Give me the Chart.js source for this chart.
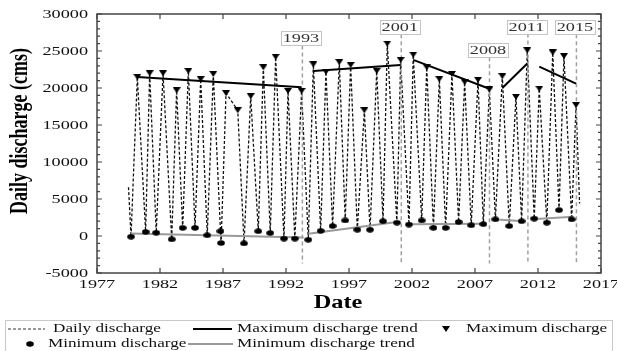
<!DOCTYPE html>
<html>
<head>
<meta charset="utf-8">
<script src="https://cdn.jsdelivr.net/npm/chart.js@4.4.1/dist/chart.umd.min.js"></script>
<style>
  body { margin: 0; background: #fff; }
  #wrap { width: 617px; height: 351px; }
</style>
</head>
<body>
<div id="wrap"><canvas id="grafico"></canvas></div>
<script>
// Annual maximum discharge (decimal year, cms)
const maxYears = [1980.2, 1981.18, 1982.24, 1983.32, 1984.25, 1985.23, 1986.23, 1987.24, 1988.17, 1989.2,
  1990.2, 1991.18, 1992.16, 1993.24, 1994.17, 1995.17, 1996.23, 1997.13, 1998.22, 1999.2,
  2000.04, 2001.1, 2002.1, 2003.17, 2004.17, 2005.17, 2006.18, 2007.24, 2008.14, 2009.17,
  2010.25, 2011.15, 2012.1, 2013.17, 2014.06, 2015.02];
const maxValues = [21500, 22000, 22000, 19700, 22300, 21200, 21900, 19300, 17000, 18900,
  22800, 24200, 19600, 19600, 23200, 22200, 23500, 23100, 17000, 22300,
  26000, 23800, 24500, 22800, 21200, 21900, 20800, 21100, 19800, 21600,
  18800, 25100, 19900, 24800, 24300, 17700];

// Annual minimum discharge
const minYears = [1979.7, 1980.86, 1981.7, 1982.93, 1983.8, 1984.78, 1985.75, 1986.8, 1986.85, 1988.67,
  1989.8, 1990.75, 1991.84, 1992.7, 1993.77, 1994.75, 1995.7, 1996.7, 1997.66, 1998.67,
  1999.7, 2000.8, 2001.76, 2002.77, 2003.7, 2004.67, 2005.7, 2006.7, 2007.66, 2008.62,
  2009.72, 2010.7, 2011.7, 2012.7, 2013.67, 2014.67];
const minValues = [-100, 550, 450, -450, 1100, 1100, 100, 650, -950, -1000,
  650, 400, -350, -350, -500, 700, 1350, 2100, 850, 850,
  2000, 1800, 1550, 2100, 1100, 1100, 1900, 1450, 1600, 2250,
  1350, 2000, 2350, 1800, 3500, 2250];

// first and last reading of the daily record
const dailyEdgeYears = [1979.5, 2015.3];
const dailyEdgeValues = [6600, 4400];

// trend segments (null = break between periods)
const maxTrendYears = [1980.2, 1993.24, 1993.7, 1994.17, 2001.1, 2001.6, 2002.1, 2008.14, 2008.6, 2009.17, 2011.15, 2011.6, 2012.1, 2015.02];
const maxTrendValues = [21500, 20100, null, 22300, 23100, null, 23800, 19900, null, 20000, 23300, null, 22900, 20600];
const minTrendYears = [1979.7, 1993.4, 1993.6, 1993.77, 2000.8, 2001.3, 2001.76, 2007.66, 2008.1, 2008.5, 2010.8, 2011.2, 2011.5, 2014.8];
const minTrendValues = [350, -200, null, 300, 1900, null, 1600, 1650, null, 2250, 2000, null, 2250, 2600];

// change points
const eventYears = [1993.3, 2001.15, 2008.15, 2011.2, 2015.05];
const eventLabels = ['1993', '2001', '2008', '2011', '2015'];
const eventLabelValues = [26700, 28200, 25100, 28300, 28200];
const eventBottom = -3700;

// axis ticks
const xTicks = [1977, 1982, 1987, 1992, 1997, 2002, 2007, 2012, 2017];
const yTicks = [-5000, 0, 5000, 10000, 15000, 20000, 25000, 30000];

const SX = 1.35; // the original figure is stretched sideways
const SERIF = '"Liberation Serif", "Times New Roman", serif';

function pts(xs, ys) { return xs.map((x, i) => ({ x: x, y: ys[i] })); }

const dailyPts = pts(minYears, minValues).concat(pts(maxYears, maxValues), pts(dailyEdgeYears, dailyEdgeValues))
  .sort((a, b) => a.x - b.x);

const eventPts = [];
eventYears.forEach((yr, i) => {
  eventPts.push({ x: yr, y: eventLabelValues[i] }, { x: yr, y: eventBottom }, { x: yr + 0.01, y: null });
});

function marker(kind) {
  const c = document.createElement('canvas');
  c.width = 8; c.height = 6;
  const g = c.getContext('2d');
  g.fillStyle = '#000';
  g.beginPath();
  if (kind === 'tri') {
    g.moveTo(0, 0); g.lineTo(8, 0); g.lineTo(4, 6); g.closePath();
  } else {
    g.ellipse(4, 3, 3.8, 2.8, 0, 0, Math.PI * 2);
  }
  g.fill();
  return c;
}
const triImg = marker('tri');
const dotImg = marker('dot');

function sText(ctx, txt, x, y, font, align, color, sx) {
  sx = sx || SX;
  ctx.save();
  ctx.font = font;
  ctx.fillStyle = color;
  ctx.textBaseline = 'middle';
  ctx.textAlign = 'left';
  const w = ctx.measureText(txt).width * sx;
  const left = align === 'center' ? x - w / 2 : align === 'right' ? x - w : x;
  ctx.translate(left, y);
  ctx.scale(sx, 1);
  ctx.fillText(txt, 0, 0);
  ctx.restore();
  return w;
}

const decor = {
  id: 'decor',
  afterDraw(chart) {
    const ctx = chart.ctx;
    const a = chart.chartArea;
    const xs = chart.scales.x, ys = chart.scales.y;
    const tickFont = '13.5px ' + SERIF;

    // event label boxes
    eventYears.forEach((yr, i) => {
      const px = xs.getPixelForValue(yr) - 1.5;
      const py = ys.getPixelForValue(eventLabelValues[i]);
      ctx.save();
      ctx.font = tickFont;
      const w = ctx.measureText(eventLabels[i]).width * SX + 4;
      ctx.fillStyle = '#fff';
      ctx.fillRect(px - w / 2, py - 7, w, 14);
      ctx.strokeStyle = '#c4c4c4';
      ctx.lineWidth = 1;
      ctx.strokeRect(Math.round(px - w / 2) + 0.5, Math.round(py - 7) + 0.5, Math.round(w), 14);
      ctx.restore();
      sText(ctx, eventLabels[i], px, py + 0.5, tickFont, 'center', '#333');
    });

    // frame
    ctx.save();
    ctx.strokeStyle = '#444';
    ctx.lineWidth = 1.5;
    ctx.strokeRect(a.left, a.top, a.right - a.left, a.bottom - a.top);
    ctx.lineWidth = 1.2;
    ctx.beginPath();
    xTicks.forEach(v => {
      const px = xs.getPixelForValue(v);
      ctx.moveTo(px, a.bottom); ctx.lineTo(px, a.bottom - 5);
      ctx.moveTo(px, a.top); ctx.lineTo(px, a.top + 5);
    });
    for (let v = -5000; v <= 30000; v += 1000) {
      const py = ys.getPixelForValue(v);
      const len = v % 5000 === 0 ? 5 : 3;
      ctx.moveTo(a.left, py); ctx.lineTo(a.left + len, py);
      ctx.moveTo(a.right, py); ctx.lineTo(a.right - len, py);
    }
    ctx.stroke();
    ctx.restore();

    // tick labels
    yTicks.forEach(v => sText(ctx, String(v), a.left - 9, ys.getPixelForValue(v), tickFont, 'right', '#111'));
    xTicks.forEach(v => sText(ctx, String(v), xs.getPixelForValue(v), a.bottom + 11, tickFont, 'center', '#111'));

    // axis titles
    sText(ctx, 'Date', (a.left + a.right) / 2 - 11, a.bottom + 30, 'bold 18px ' + SERIF, 'center', '#000');
    ctx.save();
    ctx.font = 'bold 18px ' + SERIF;
    ctx.fillStyle = '#000';
    ctx.textAlign = 'center';
    ctx.textBaseline = 'middle';
    ctx.translate(21, 131);
    ctx.scale(SX, 1);
    ctx.rotate(-Math.PI / 2);
    ctx.fillText('Daily discharge (cms)', 0, 0);
    ctx.restore();

    // legend
    const lf = '13px ' + SERIF;
    const r1 = 329, r2 = 344;
    ctx.save();
    ctx.strokeStyle = '#c8c8c8';
    ctx.lineWidth = 1;
    ctx.strokeRect(5.5, 320.5, 607, 40);
    ctx.lineWidth = 1;
    ctx.strokeStyle = '#333';
    ctx.setLineDash([3, 2]);
    ctx.beginPath(); ctx.moveTo(8, r1); ctx.lineTo(45, r1); ctx.stroke();
    ctx.setLineDash([]);
    ctx.lineWidth = 2;
    ctx.strokeStyle = '#000';
    ctx.beginPath(); ctx.moveTo(193, r1); ctx.lineTo(232, r1); ctx.stroke();
    ctx.strokeStyle = '#9a9a9a';
    ctx.beginPath(); ctx.moveTo(188, r2); ctx.lineTo(233, r2); ctx.stroke();
    ctx.drawImage(triImg, 442, r1 - 3);
    ctx.drawImage(dotImg, 26, r2 - 3);
    ctx.restore();
    sText(ctx, 'Daily discharge', 53, r1, lf, 'left', '#111', 1.32);
    sText(ctx, 'Maximum discharge trend', 237, r1, lf, 'left', '#111', 1.32);
    sText(ctx, 'Maximum discharge', 466, r1, lf, 'left', '#111', 1.32);
    sText(ctx, 'Minimum discharge', 48, r2, lf, 'left', '#111', 1.32);
    sText(ctx, 'Minimum discharge trend', 237, r2, lf, 'left', '#111', 1.32);
  }
};

new Chart(document.getElementById('grafico'), {
  type: 'line',
  data: {
    datasets: [
      {
        label: 'Maximum discharge',
        data: pts(maxYears, maxValues),
        showLine: false,
        pointStyle: triImg,
        pointRadius: 4,
        order: 0
      },
      {
        label: 'Minimum discharge',
        data: pts(minYears, minValues),
        showLine: false,
        pointStyle: dotImg,
        pointRadius: 4,
        order: 0
      },
      {
        label: 'Maximum discharge trend',
        data: pts(maxTrendYears, maxTrendValues),
        borderColor: '#000',
        borderWidth: 2,
        pointRadius: 0,
        spanGaps: false,
        order: 1
      },
      {
        label: 'Minimum discharge trend',
        data: pts(minTrendYears, minTrendValues),
        borderColor: '#9a9a9a',
        borderWidth: 2,
        pointRadius: 0,
        spanGaps: false,
        order: 1
      },
      {
        label: 'Change points',
        data: eventPts,
        borderColor: '#a0a0a0',
        borderWidth: 1.5,
        borderDash: [4, 3],
        pointRadius: 0,
        spanGaps: false,
        order: 2
      },
      {
        label: 'Daily discharge',
        data: dailyPts,
        borderColor: '#111',
        borderWidth: 1.3,
        borderDash: [3, 2],
        pointRadius: 0,
        tension: 0,
        order: 3
      }
    ]
  },
  options: {
    responsive: true,
    maintainAspectRatio: false,
    animation: false,
    layout: { padding: { left: 97, right: 16, top: 14, bottom: 78 } },
    scales: {
      x: { type: 'linear', min: 1977, max: 2017, display: false },
      y: { type: 'linear', min: -5000, max: 30000, display: false }
    },
    plugins: {
      legend: { display: false },
      tooltip: { enabled: false }
    }
  },
  plugins: [decor]
});
</script>
</body>
</html>
